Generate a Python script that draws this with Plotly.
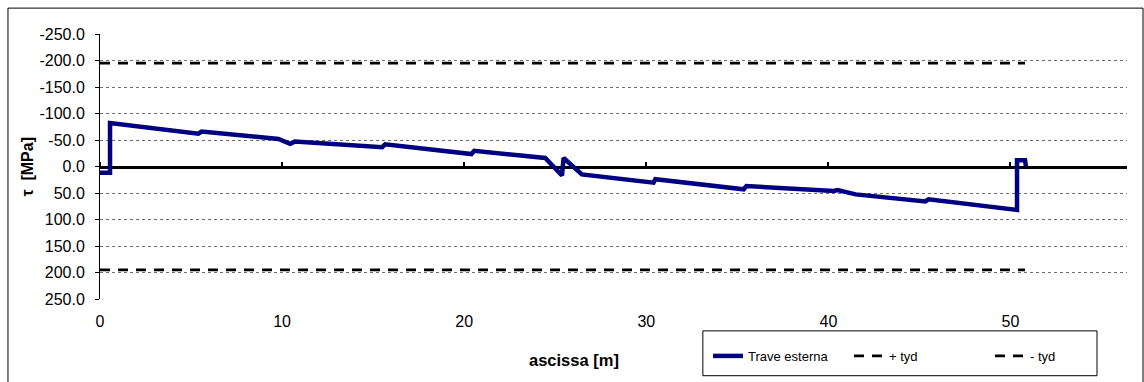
import plotly.graph_objects as go

# Shear stress along the outer girder (x in m, tau in MPa)
ascissa = [0.0, 0.55, 0.55, 5.4, 5.58, 9.8, 10.44, 10.7, 15.5, 15.66,
           20.4, 20.55, 24.45, 25.37, 25.46, 26.46, 30.4, 30.5, 35.35, 35.5,
           40.3, 40.5, 41.5, 45.33, 45.5, 50.36, 50.36, 50.8, 50.85]
tau_trave = [12, 12, -82, -62, -66, -52, -43, -47, -36.5, -42,
             -23.5, -29.5, -16, 17, -16, 15, 30.5, 24, 43, 37,
             46, 44.5, 52.6, 66, 62, 82, -12, -12, 0]

# Design shear strength limits
x_limiti = [0.0, 50.8]
tyd = 195.0

y_ticks = [-250, -200, -150, -100, -50, 0, 50, 100, 150, 200, 250]
y_ticktext = [f"{v:.1f}" for v in y_ticks]
x_ticks = [0, 10, 20, 30, 40, 50]

FONT = "Liberation Sans, Arial, sans-serif"

fig = go.Figure()

fig.add_trace(go.Scatter(
    x=ascissa, y=tau_trave, name="Trave esterna", mode="lines",
    line=dict(color="#000080", width=4.5), xaxis="x2", yaxis="y",
))
fig.add_trace(go.Scatter(
    x=x_limiti, y=[tyd, tyd], name="+ tyd", mode="lines",
    line=dict(color="black", width=2.8, dash="10px,8px"),
))
fig.add_trace(go.Scatter(
    x=x_limiti, y=[-tyd, -tyd], name="- tyd", mode="lines",
    line=dict(color="black", width=2.8, dash="10px,8px"),
))

fig.update_layout(
    width=1144, height=382, autosize=False,
    margin=dict(l=100, r=17, t=34, b=82),
    paper_bgcolor="white", plot_bgcolor="white",
    font=dict(family=FONT, size=16, color="black"),
    xaxis=dict(
        range=[0, 56.4], tickvals=x_ticks, ticks="", showline=False,
        showgrid=False, zeroline=False, ticklabelstandoff=11,
        tickfont=dict(size=16),
    ),
    # axis crossing at tau = 0, carrying the x tick marks
    xaxis2=dict(
        matches="x", overlaying="x", anchor="free", position=0.5, side="top",
        ticks="outside", ticklen=4, tickwidth=2, tickcolor="black",
        tickvals=x_ticks, showticklabels=False, showline=True,
        linecolor="black", linewidth=3, showgrid=False, zeroline=False,
        layer="below traces",
    ),
    yaxis=dict(
        range=[250, -250], tickvals=y_ticks, ticktext=y_ticktext,
        ticks="outside", ticklen=4, tickcolor="black", showline=True,
        linecolor="black", linewidth=1, showgrid=True, gridcolor="#707070",
        griddash="dot", gridwidth=1, zeroline=False, ticklabelstandoff=7,
        tickfont=dict(size=16),
    ),
    legend=dict(
        orientation="h", x=0.592, y=-0.154, xanchor="left", yanchor="top",
        borderwidth=0, bgcolor="rgba(0,0,0,0)",
        font=dict(family=FONT, size=13), entrywidth=96,
    ),
    shapes=[
        dict(type="rect", xref="paper", yref="paper",
             x0=-0.0896, x1=1.0156, y0=-0.34, y1=1.0977,
             line=dict(color="black", width=1), layer="below"),
        # legend frame
        dict(type="rect", xref="paper", yref="paper",
             x0=0.587, x1=0.9708, y0=-0.2895, y1=-0.1203,
             line=dict(color="black", width=1), layer="below"),
    ],
    annotations=[
        dict(text="<b>ascissa [m]</b>", xref="paper", yref="paper",
             x=0.4615, y=-0.229, showarrow=False, xanchor="center",
             yanchor="middle", font=dict(size=16.5)),
        dict(text="<b>τ  [MPa]</b>", xref="paper", yref="paper",
             x=-0.071, y=0.5, showarrow=False, textangle=-90,
             xanchor="center", yanchor="middle", font=dict(size=16)),
    ],
)

fig.write_html("out.html")
